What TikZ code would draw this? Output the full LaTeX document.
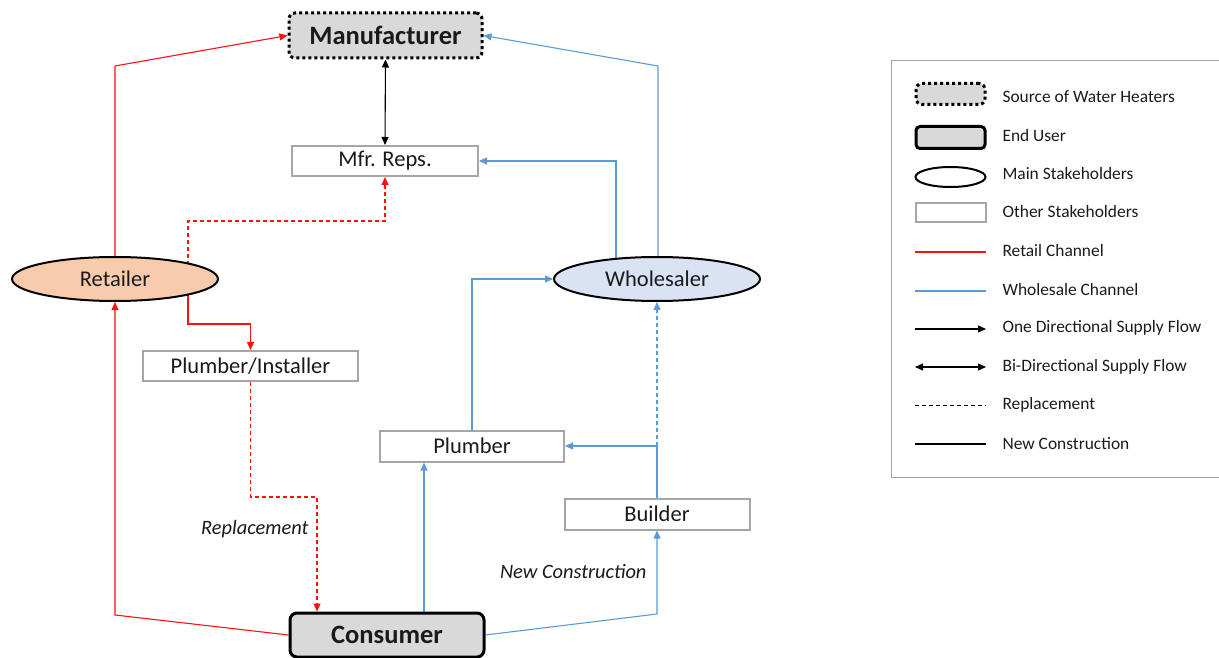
\documentclass[tikz,border=0pt]{standalone}
\usepackage{fontspec}
\setmainfont{Carlito}
\usetikzlibrary{shapes.geometric,arrows.meta,backgrounds}

\definecolor{retailred}{HTML}{FF1010}
\definecolor{wsblue}{HTML}{5B9BD5}
\definecolor{boxgray}{HTML}{A6A6A6}
\definecolor{srcfill}{HTML}{D9D9D9}
\definecolor{peach}{HTML}{F8CBAD}
\definecolor{paleblue}{HTML}{DAE3F3}
\definecolor{txt}{HTML}{1A1A1A}

\tikzset{
  flow/.style={-{Triangle[length=8pt,width=7pt]}},
  biflow/.style={{Triangle[length=8pt,width=7pt]}-{Triangle[length=8pt,width=7pt]}},
  retail/.style={draw=retailred, line width=1.1pt, flow},
  wsale/.style={draw=wsblue, line width=1.1pt, flow},
  repl/.style={dash pattern=on 4pt off 3pt},
  nodetext/.style={text=txt, font=\fontsize{22.5}{27}\selectfont},
  srcbox/.style={rectangle, rounded corners=6pt, draw=black, fill=srcfill,
    line width=3pt, dash pattern=on 3pt off 3pt, nodetext,
    font=\fontsize{26.5}{31}\selectfont\bfseries},
  enduser/.style={rectangle, rounded corners=7pt, draw=black, fill=srcfill,
    line width=3pt, nodetext, font=\fontsize{26.5}{31}\selectfont\bfseries},
  mainholder/.style={ellipse, draw=black, line width=2pt, inner sep=0pt, nodetext},
  otherholder/.style={rectangle, draw=boxgray, fill=white, line width=2pt, nodetext},
  channel/.style={text=txt, font=\fontsize{20.4}{24}\selectfont\itshape},
  legtext/.style={text=txt, anchor=west, font=\fontsize{17.4}{20}\selectfont},
}

\begin{document}
\begin{tikzpicture}[x=1pt,y=-1pt]
\useasboundingbox (0,0) rectangle (1219,658);

% stakeholders
\node[srcbox, minimum width=193pt, minimum height=45pt] (mfr) at (385.5,35.5) {Manufacturer};
\node[otherholder, minimum width=186pt, minimum height=30pt] (reps) at (385,161) {Mfr. Reps.};
\node[mainholder, fill=peach, minimum width=206pt, minimum height=44pt] (ret) at (115,279) {Retailer};
\node[mainholder, fill=paleblue, minimum width=206pt, minimum height=44pt] (whl) at (657,279) {Wholesaler};
\node[otherholder, minimum width=215pt, minimum height=30pt] (pi) at (250.5,366) {Plumber/Installer};
\node[otherholder, minimum width=184pt, minimum height=31pt] (plm) at (472,446) {Plumber};
\node[otherholder, minimum width=185pt, minimum height=31pt] (bld) at (657,514) {Builder};
\node[enduser, minimum width=194pt, minimum height=44pt] (con) at (387,635) {Consumer};

% bend points
\coordinate (c1) at (115,66);
\coordinate (c2) at (658,66);
\coordinate (b1) at (250.5,324);
\coordinate (b2) at (385,221);
\coordinate (b3) at (317,497);
\coordinate (k1) at (115,615);
\coordinate (k2) at (657,614);

\begin{pgfonlayer}{background}
  % retail channel
  \draw[retail] (ret.north) -- (c1) -- (mfr.west);
  \draw[retail, repl] ([xshift=73pt]ret.center) |- (b2) -- (reps.south);
  \draw[retail] ([xshift=73pt]ret.center) |- (b1) -- (pi.north);
  \draw[retail, repl] (pi.south) |- (b3) -- (b3 |- con.north);
  \draw[retail] (con.west) -- (k1) -- (ret.south);
  % wholesale channel
  \draw[wsale] (c2 |- whl.center) -- (c2) -- (mfr.east);
  \draw[wsale] ([xshift=-41pt]whl.center) |- (reps.east);
  \draw[wsale] (plm.north) |- (whl.west);
  \draw[wsale] ([xshift=37pt]con.north) -- ([xshift=37pt]con.north |- plm.south);
  \draw[wsale] (bld.north) |- (plm.east);
  \draw[wsale, repl] (bld.north |- plm.east) -- (whl.south);
  \draw[wsale] (con.east) -- (k2) -- (bld.south);
  % manufacturer and its reps
  \draw[biflow, line width=1.1pt] (mfr.south) -- (reps.north);
\end{pgfonlayer}

% channel labels
\node[channel, anchor=east] (lblrep) at (312,529) {Replacement};
\node[channel, anchor=east] (lblnew) at (650,572) {New Construction};

% legend
\draw[boxgray, line width=1pt] (1225,61) -- (891,61) -- (891,477) -- (1225,477);
\node[srcbox, minimum width=69pt, minimum height=21pt] (lsrc) at (950.5,94) {};
\node[enduser, minimum width=69pt, minimum height=22pt, rounded corners=4pt] (luser) at (950.5,137.5) {};
\node[mainholder, minimum width=70pt, minimum height=20pt] (lmain) at (950.5,177) {};
\node[otherholder, minimum width=70pt, minimum height=19pt] (lother) at (950.5,212.5) {};
\draw[retailred, line width=1.1pt] (915,252) -- (986,252);
\draw[wsblue, line width=1.1pt] (915,291) -- (986,291);
\draw[flow, line width=1.1pt] (915,329) -- (986,329);
\draw[biflow, line width=1.1pt] (915,367) -- (986,367);
\draw[repl, line width=1pt] (915,405) -- (986,405);
\draw[line width=1.1pt] (915,444) -- (986,444);

\node[legtext] (t1) at (999,97) {Source of Water Heaters};
\node[legtext] (t2) at (999,136) {End User};
\node[legtext] (t3) at (999,174) {Main Stakeholders};
\node[legtext] (t4) at (999,212) {Other Stakeholders};
\node[legtext] (t5) at (999,251) {Retail Channel};
\node[legtext] (t6) at (999,290) {Wholesale Channel};
\node[legtext] (t7) at (999,328) {One Directional Supply Flow};
\node[legtext] (t8) at (999,367) {Bi-Directional Supply Flow};
\node[legtext] (t9) at (999,405) {Replacement};
\node[legtext] (t10) at (999,444) {New Construction};
\end{tikzpicture}
\end{document}
